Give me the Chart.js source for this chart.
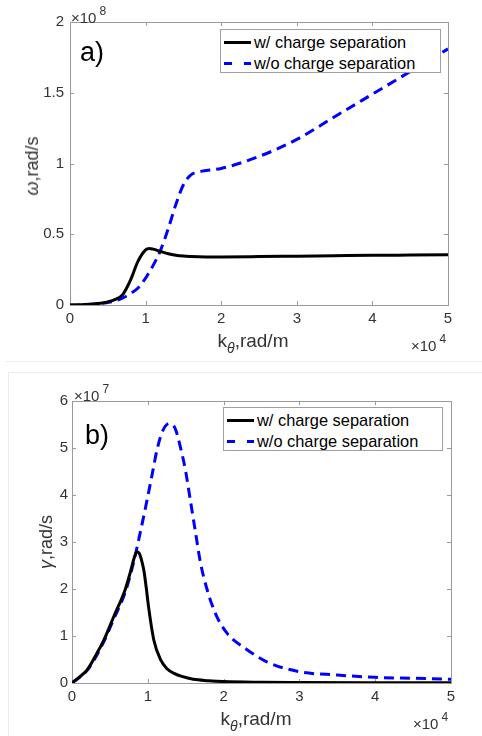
<!DOCTYPE html>
<html>
<head>
<meta charset="utf-8">
<script src="https://cdn.jsdelivr.net/npm/chart.js@4"></script>
<style>
  body { margin: 0; width: 482px; height: 736px; position: relative; background: #fff; overflow: hidden;
         font-family: 'Liberation Sans', Arial, sans-serif; color: #333; }
  canvas { position: absolute; left: 0; }
  .txt { position: absolute; white-space: nowrap; line-height: 1; }
  .mid { transform: translate(-50%, -50%); }
  .ytitle { transform: translate(-50%, -50%) rotate(-90deg); font-size: 18px; }
  .xtitle { transform: translate(-50%, -50%); font-size: 19px; }
  .exp { font-size: 15px; }
  .exp sup { font-size: 12px; position: relative; top: -2px; margin-left: 3px; }
  .panel-label { font-size: 27px; color: #000; }
  .sub { font-size: 14px; font-style: italic; position: relative; top: 6px; }
  .greek { font-style: italic; }
  .legend { position: absolute; border: 1px solid #a0a0a0; background: #fff; box-sizing: border-box; }
  .legend .item { position: absolute; font-size: 16.4px; color: #000; transform: translateY(-50%); line-height: 1; }
  .legend .solid { position: absolute; height: 3px; background: #000; }
  .legend .dash { position: absolute; height: 3px; background: #0000ff; }
  .sep { position: absolute; background: #ececec; }
</style>
</head>
<body>
<canvas id="chartA" width="482" height="360" style="top:0"></canvas>
<canvas id="chartB" width="482" height="376" style="top:360px"></canvas>

<!-- faint frame lines from the source figure -->
<div class="sep" style="left:6px;top:361px;width:476px;height:1px"></div>
<div class="sep" style="left:8px;top:372px;width:474px;height:1px"></div>
<div class="sep" style="left:8px;top:372px;width:1px;height:364px"></div>

<!-- panel a) text -->
<div class="txt exp" style="left:71px;top:7px">&times;10<sup>8</sup></div>
<div class="txt panel-label mid" style="left:92px;top:52px">a)</div>
<div class="txt ytitle" style="left:32px;top:166px"><span class="greek">&omega;</span>,rad/s</div>
<div class="txt xtitle" style="left:253px;top:340px">k<span class="sub">&theta;</span>,rad/m</div>
<div class="txt exp" style="left:411px;top:335px">&times;10<sup>4</sup></div>
<div class="legend" style="left:220px;top:29px;width:221px;height:44px">
  <div class="solid" style="left:3px;top:11px;width:27px"></div>
  <div class="item" style="left:33px;top:12px" id="legA1"></div>
  <div class="dash" style="left:3px;top:32px;width:8px"></div>
  <div class="dash" style="left:23px;top:32px;width:7px"></div>
  <div class="item" style="left:33px;top:33px" id="legA2"></div>
</div>

<!-- panel b) text -->
<div class="txt exp" style="left:74px;top:385px">&times;10<sup>7</sup></div>
<div class="txt panel-label mid" style="left:97px;top:435px">b)</div>
<div class="txt ytitle" style="left:46px;top:542px"><span class="greek">&gamma;</span>,rad/s</div>
<div class="txt xtitle" style="left:256px;top:718px">k<span class="sub">&theta;</span>,rad/m</div>
<div class="txt exp" style="left:413px;top:713px">&times;10<sup>4</sup></div>
<div class="legend" style="left:223px;top:407px;width:220px;height:44px">
  <div class="solid" style="left:3px;top:11px;width:27px"></div>
  <div class="item" style="left:33px;top:12px" id="legB1"></div>
  <div class="dash" style="left:3px;top:32px;width:8px"></div>
  <div class="dash" style="left:23px;top:32px;width:7px"></div>
  <div class="item" style="left:33px;top:33px" id="legB2"></div>
</div>

<script>
const legendLabels = ["w/ charge separation", "w/o charge separation"];
const kTicks = [0, 1, 2, 3, 4, 5];          // x 1e4 rad/m
const omegaTicks = [0, 0.5, 1, 1.5, 2];     // x 1e8 rad/s
const gammaTicks = [0, 1, 2, 3, 4, 5, 6];   // x 1e7 rad/s

// panel a) real frequency
const kOmega = [0, 0.2, 0.4, 0.5, 0.6, 0.7, 0.8, 0.9, 1.0, 1.05, 1.1, 1.2, 1.3, 1.4, 1.5, 1.6, 1.7, 1.8, 2.0, 2.5, 3, 3.5, 4, 4.5, 5];
const omegaWith = [0, 0.003, 0.012, 0.022, 0.04, 0.075, 0.175, 0.31, 0.39, 0.40, 0.395, 0.378, 0.362, 0.352, 0.346, 0.343, 0.341, 0.340, 0.340, 0.342, 0.345, 0.348, 0.351, 0.353, 0.355];
const omegaWithout = [0, 0.002, 0.01, 0.018, 0.03, 0.05, 0.08, 0.12, 0.19, 0.235, 0.28, 0.39, 0.54, 0.71, 0.85, 0.92, 0.94, 0.95, 0.965, 1.05, 1.17, 1.33, 1.49, 1.65, 1.81];

// panel b) growth rate
const kGammaWith = [0, 0.1, 0.2, 0.3, 0.42, 0.55, 0.7, 0.77, 0.82, 0.857, 0.89, 0.92, 0.95, 0.98, 1.01, 1.08, 1.17, 1.25, 1.34, 1.45, 1.6, 1.8, 2.0, 2.5, 3, 4, 5];
const gammaWith = [0, 0.13, 0.28, 0.55, 0.91, 1.41, 1.98, 2.36, 2.66, 2.79, 2.75, 2.6, 2.38, 2.02, 1.62, 0.91, 0.49, 0.31, 0.21, 0.14, 0.08, 0.05, 0.03, 0.015, 0.01, 0.005, 0.003];
const kGammaWithout = [0, 0.2, 0.42, 0.55, 0.7, 0.81, 0.9, 0.99, 1.06, 1.12, 1.19, 1.28, 1.36, 1.43, 1.5, 1.56, 1.63, 1.69, 1.78, 1.9, 2.05, 2.3, 2.57, 3, 3.5, 4, 4.5, 5];
const gammaWithout = [0, 0.27, 0.88, 1.36, 1.92, 2.55, 3.2, 3.89, 4.46, 4.95, 5.34, 5.52, 5.42, 5.02, 4.5, 3.9, 3.2, 2.6, 2.0, 1.45, 1.05, 0.72, 0.45, 0.24, 0.17, 0.12, 0.1, 0.08];

document.getElementById("legA1").textContent = legendLabels[0];
document.getElementById("legA2").textContent = legendLabels[1];
document.getElementById("legB1").textContent = legendLabels[0];
document.getElementById("legB2").textContent = legendLabels[1];

Chart.defaults.font.family = "'Liberation Sans', Arial, sans-serif";
Chart.defaults.color = "#333";

// matlab-like axes box with inward ticks
const boxPlugin = {
  id: "matlabBox",
  beforeDatasetsDraw(chart) {
    const { ctx, chartArea: a, scales } = chart;
    ctx.save();
    ctx.strokeStyle = "#9a9a9a";
    ctx.lineWidth = 1;
    ctx.strokeRect(a.left + 0.5, a.top + 0.5, a.right - a.left, a.bottom - a.top);
    ctx.beginPath();
    scales.x.ticks.forEach((t) => {
      const px = Math.round(scales.x.getPixelForValue(t.value)) + 0.5;
      ctx.moveTo(px, a.bottom); ctx.lineTo(px, a.bottom - 4);
      ctx.moveTo(px, a.top); ctx.lineTo(px, a.top + 4);
    });
    scales.y.ticks.forEach((t) => {
      const py = Math.round(scales.y.getPixelForValue(t.value)) + 0.5;
      ctx.moveTo(a.left, py); ctx.lineTo(a.left + 4, py);
      ctx.moveTo(a.right, py); ctx.lineTo(a.right - 4, py);
    });
    ctx.stroke();
    ctx.restore();
  },
};

function toPoints(xs, ys) {
  return xs.map((x, i) => ({ x: x, y: ys[i] }));
}

function makeChart(id, opts) {
  const ctx = document.getElementById(id).getContext("2d");
  return new Chart(ctx, {
    type: "line",
    data: {
      datasets: [
        {
          label: legendLabels[0],
          data: toPoints(opts.k1, opts.y1),
          borderColor: "#000000",
          borderWidth: 3,
          pointRadius: 0,
          cubicInterpolationMode: "monotone",
        },
        {
          label: legendLabels[1],
          data: toPoints(opts.k2, opts.y2),
          borderColor: "#0000ff",
          borderWidth: 3,
          borderDash: [10, 6],
          pointRadius: 0,
          cubicInterpolationMode: "monotone",
        },
      ],
    },
    options: {
      responsive: false,
      animation: false,
      layout: { padding: { top: opts.top, right: opts.right, left: 0, bottom: 0 } },
      plugins: { legend: { display: false }, tooltip: { enabled: false } },
      scales: {
        x: {
          type: "linear",
          min: 0,
          max: 5,
          grid: { display: false, drawTicks: false },
          border: { display: false },
          afterBuildTicks: (scale) => { scale.ticks = kTicks.map((v) => ({ value: v })); },
          afterFit: (scale) => { scale.height = opts.xHeight; },
          ticks: { font: { size: 15 }, padding: 5, maxRotation: 0, callback: (v) => String(v) },
        },
        y: {
          type: "linear",
          min: 0,
          max: opts.yMax,
          grid: { display: false, drawTicks: false },
          border: { display: false },
          afterBuildTicks: (scale) => { scale.ticks = opts.yTicks.map((v) => ({ value: v })); },
          afterFit: (scale) => { scale.width = opts.yWidth; },
          ticks: { font: { size: 15 }, padding: opts.yPad, callback: (v) => String(v) },
        },
      },
    },
    plugins: [boxPlugin],
  });
}

makeChart("chartA", {
  k1: kOmega, y1: omegaWith, k2: kOmega, y2: omegaWithout,
  yMax: 2, yTicks: omegaTicks,
  top: 22, right: 34, xHeight: 55, yWidth: 70, yPad: 6,
});

makeChart("chartB", {
  k1: kGammaWith, y1: gammaWith, k2: kGammaWithout, y2: gammaWithout,
  yMax: 6, yTicks: gammaTicks,
  top: 41, right: 31, xHeight: 53, yWidth: 72, yPad: 4,
});
</script>
</body>
</html>
